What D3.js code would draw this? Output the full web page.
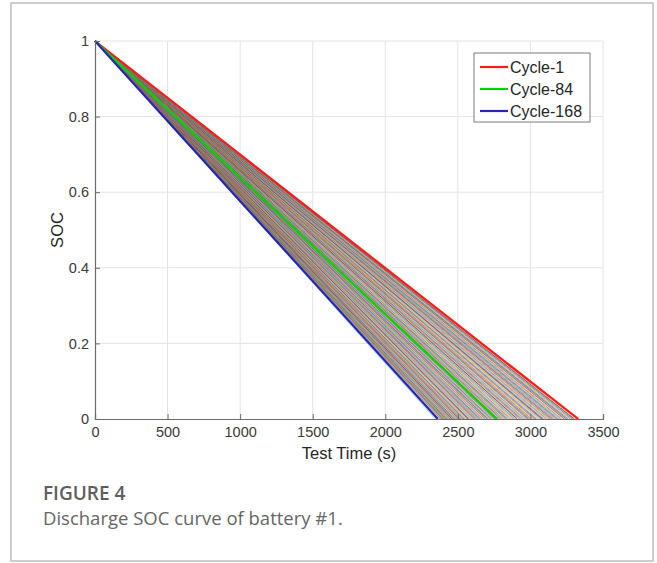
<!DOCTYPE html>
<html>
<head>
<meta charset="utf-8">
<script src="https://cdn.jsdelivr.net/npm/d3@7"></script>
<style>
  body { margin: 0; background: #fff; }
  svg { display: block; }
</style>
</head>
<body>
<svg id="chart" width="657" height="563"></svg>
<script>
// discharge end time (s) of each cycle
const endTimes = [
  3330, 3322, 3315, 3305, 3298, 3290, 3300, 3286, 3276, 3268, 3260, 3252,
  3244, 3236, 3250, 3232, 3222, 3214, 3205, 3197, 3190, 3182, 3174, 3166,
  3158, 3150, 3168, 3146, 3136, 3128, 3120, 3112, 3104, 3096, 3088, 3080,
  3072, 3064, 3080, 3058, 3048, 3040, 3032, 3024, 3016, 3008, 3000, 2992,
  2985, 2978, 2994, 2972, 2962, 2955, 2948, 2940, 2932, 2925, 2918, 2910,
  2903, 2896, 2910, 2890, 2880, 2872, 2864, 2857, 2850, 2843, 2836, 2829,
  2822, 2815, 2830, 2810, 2802, 2795, 2790, 2784, 2779, 2775, 2772, 2768,
  2762, 2756, 2770, 2750, 2744, 2738, 2732, 2726, 2720, 2714, 2708, 2702,
  2696, 2690, 2704, 2685, 2678, 2672, 2666, 2660, 2654, 2648, 2642, 2636,
  2630, 2624, 2638, 2620, 2612, 2606, 2600, 2594, 2588, 2582, 2576, 2570,
  2565, 2560, 2572, 2555, 2548, 2543, 2538, 2532, 2527, 2522, 2517, 2512,
  2507, 2502, 2514, 2498, 2492, 2487, 2482, 2477, 2472, 2467, 2462, 2458,
  2454, 2450, 2460, 2446, 2441, 2437, 2433, 2429, 2425, 2421, 2417, 2413,
  2410, 2406, 2414, 2402, 2398, 2394, 2390, 2386, 2382, 2378, 2345, 2362
];
const highlightCycles = [1, 84, 168];
const highlightNames = ["Cycle-1", "Cycle-84", "Cycle-168"];
const highlightColors = ["#ff1a1a", "#00d400", "#2424b8"];
const xTicks = [0, 500, 1000, 1500, 2000, 2500, 3000, 3500];
const yTicks = [0, 0.2, 0.4, 0.6, 0.8, 1];
const lineColors = ["#0072BD", "#D95319", "#EDB120", "#7E2F8E", "#77AC30", "#4DBEEE", "#A2142F"];

const svg = d3.select("#chart");
const pLeft = 95, pRight = 603, pTop = 41, pBottom = 419;
const axisFont = "Liberation Sans, Arial, sans-serif";

// outer figure frame
svg.append("rect").attr("x", 11).attr("y", 3).attr("width", 642).attr("height", 558)
  .attr("fill", "none").attr("stroke", "#bdbdbd").attr("stroke-width", 1.5);

const x = d3.scaleLinear().domain([0, 3500]).range([pLeft, pRight]);
const y = d3.scaleLinear().domain([0, 1]).range([pBottom, pTop]);

// grid
const grid = svg.append("g").attr("stroke", "#e3e3e3").attr("stroke-width", 1);
grid.selectAll(".gx").data(xTicks.slice(1)).enter().append("line")
  .attr("x1", d => x(d)).attr("x2", d => x(d)).attr("y1", pTop).attr("y2", pBottom);
grid.selectAll(".gy").data(yTicks.slice(1)).enter().append("line")
  .attr("x1", pLeft).attr("x2", pRight).attr("y1", d => y(d)).attr("y2", d => y(d));

// each cycle: SOC falls linearly from 1 to 0 over its discharge time
const line = d3.line().x(d => x(d[0])).y(d => y(d[1]));
const cycles = endTimes.map((t, i) => ({ cycle: i + 1, pts: [[0, 1], [t, 0]] }));

svg.append("g").selectAll("path").data(cycles).enter().append("path")
  .attr("d", d => line(d.pts))
  .attr("fill", "none")
  .attr("stroke", d => lineColors[(d.cycle - 1) % lineColors.length])
  .attr("stroke-opacity", 0.7)
  .attr("stroke-width", 0.8);

svg.append("g").selectAll("path").data(highlightCycles).enter().append("path")
  .attr("d", c => line(cycles[c - 1].pts))
  .attr("fill", "none")
  .attr("stroke", (c, i) => highlightColors[i])
  .attr("stroke-width", 2.2);

// axes
const xAxis = svg.append("g").attr("transform", `translate(0,${pBottom})`)
  .call(d3.axisBottom(x).tickValues(xTicks).tickSize(-5).tickPadding(8).tickFormat(d3.format("d")));
const yAxis = svg.append("g").attr("transform", `translate(${pLeft},0)`)
  .call(d3.axisLeft(y).tickValues(yTicks).tickSize(-5).tickPadding(6).tickFormat(d => d === 0 || d === 1 ? d : d.toFixed(1)));
[xAxis, yAxis].forEach(a => {
  a.select(".domain").attr("stroke", "#6a6a6a").attr("stroke-width", 1.2);
  a.selectAll(".tick line").attr("stroke", "#6a6a6a");
  a.selectAll("text").attr("fill", "#3a3a3a").style("font-family", axisFont).style("font-size", "14.5px");
});

svg.append("text").attr("x", (pLeft + pRight) / 2).attr("y", 459).attr("text-anchor", "middle")
  .attr("fill", "#262626").style("font-family", axisFont).style("font-size", "16.5px")
  .text("Test Time (s)");
svg.append("text").attr("transform", `translate(63,${(pTop + pBottom) / 2}) rotate(-90)`)
  .attr("text-anchor", "middle")
  .attr("fill", "#262626").style("font-family", axisFont).style("font-size", "16.5px")
  .text("SOC");

// legend
const lg = svg.append("g").attr("transform", "translate(474,53)");
lg.append("rect").attr("width", 116).attr("height", 69).attr("fill", "#fff")
  .attr("stroke", "#7a7a7a").attr("stroke-width", 1);
highlightNames.forEach((name, i) => {
  const yy = 14 + i * 22;
  lg.append("line").attr("x1", 6).attr("x2", 34).attr("y1", yy).attr("y2", yy)
    .attr("stroke", highlightColors[i]).attr("stroke-width", 2.2);
  lg.append("text").attr("x", 36).attr("y", yy + 5.5).attr("fill", "#262626")
    .style("font-family", axisFont).style("font-size", "16px").text(name);
});

// caption
svg.append("text").attr("x", 43).attr("y", 500).attr("fill", "#5e5e5e")
  .style("font-family", "Open Sans, sans-serif").style("font-weight", 600).style("font-size", "19px")
  .text("FIGURE 4");
svg.append("text").attr("x", 43).attr("y", 525).attr("fill", "#666")
  .style("font-family", "Open Sans, sans-serif").style("font-size", "18.5px")
  .text("Discharge SOC curve of battery #1.");
</script>
</body>
</html>
